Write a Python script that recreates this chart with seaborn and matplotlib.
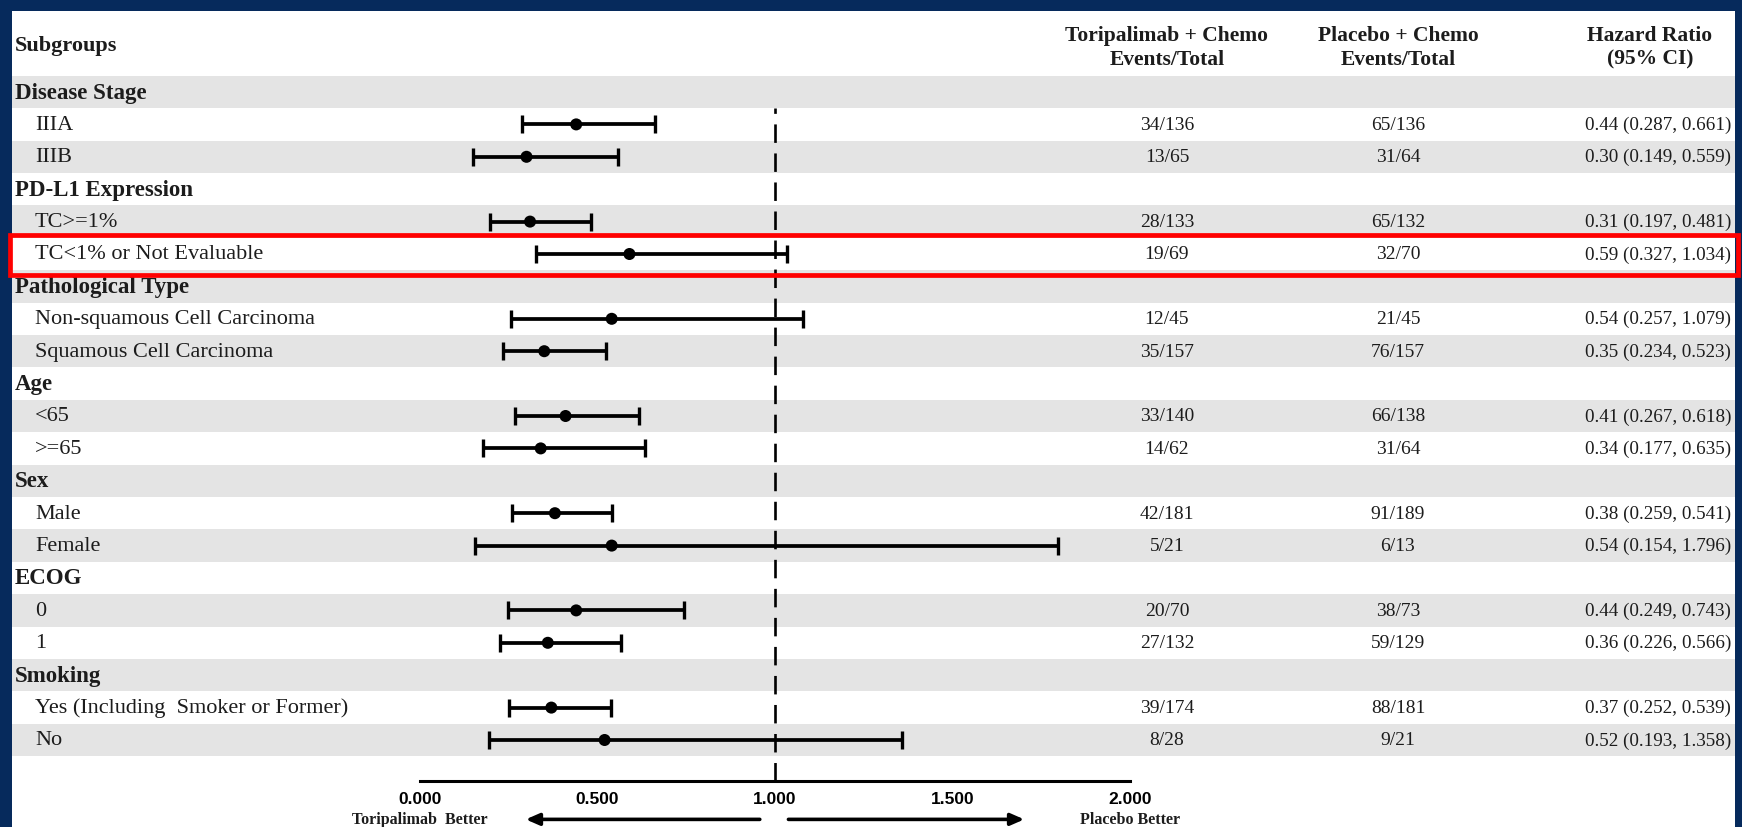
import numpy as np
import matplotlib
matplotlib.use('Agg')
import matplotlib.pyplot as plt
import matplotlib.transforms as mtransforms
from matplotlib.patches import Rectangle
import seaborn as sns

#%% data
groups = ['Disease Stage', 'PD-L1 Expression', 'Pathological Type', 'Age', 'Sex', 'ECOG', 'Smoking']
subgroups = [['IIIA', 'IIIB'],
             ['TC>=1%', 'TC<1% or Not Evaluable'],
             ['Non-squamous Cell Carcinoma', 'Squamous Cell Carcinoma'],
             ['<65', '>=65'],
             ['Male', 'Female'],
             ['0', '1'],
             ['Yes (Including  Smoker or Former)', 'No']]
tori_events = [34, 13, 28, 19, 12, 35, 33, 14, 42, 5, 20, 27, 39, 8]
tori_total = [136, 65, 133, 69, 45, 157, 140, 62, 181, 21, 70, 132, 174, 28]
pbo_events = [65, 31, 65, 32, 21, 76, 66, 31, 91, 6, 38, 59, 88, 9]
pbo_total = [136, 64, 132, 70, 45, 157, 138, 64, 189, 13, 73, 129, 181, 21]
hr = [0.44, 0.30, 0.31, 0.59, 0.54, 0.35, 0.41, 0.34, 0.38, 0.54, 0.44, 0.36, 0.37, 0.52]
ci_low = [0.287, 0.149, 0.197, 0.327, 0.257, 0.234, 0.267, 0.177, 0.259, 0.154, 0.249, 0.226, 0.252, 0.193]
ci_high = [0.661, 0.559, 0.481, 1.034, 1.079, 0.523, 0.618, 0.635, 0.541, 1.796, 0.743, 0.566, 0.539, 1.358]
highlight = 'TC<1% or Not Evaluable'
xticks = [0.0, 0.5, 1.0, 1.5, 2.0]

#%% layout of the rows
rowLabels = list()
rowIsHeader = list()
for g, subs in zip(groups, subgroups):
    rowLabels.append(g)
    rowIsHeader.append(True)
    for s in subs:
        rowLabels.append(s)
        rowIsHeader.append(False)
rowPos = np.arange(len(rowLabels))
dataRows = rowPos[~np.array(rowIsHeader)]

navy = '#062a5c'
band = '#e4e4e4'
txt = '#1c1c1c'

sns.set_style('white')
plt.rcParams['font.family'] = ['Liberation Serif', 'DejaVu Serif']

W, H = 1742, 828
fig = plt.figure(figsize=(W/100, H/100), dpi=100, facecolor=navy)
# white panel, navy frame on top / left / right
left_px, right_px, top_px = 12, 1735, 12
ax = fig.add_axes([left_px/W, 0, (right_px-left_px)/W, (H-top_px)/H])
ax.set_facecolor('white')

# x: hazard ratio 0 -> px 420, 1 unit = 355 px ; y: rows of 32.4 px, row 0 at px 93
pxUnit, x0px = 355.0, 420.0
ax.set_xlim((left_px-x0px)/pxUnit, (right_px-x0px)/pxUnit)
rowH, r0px = 32.4, 93.0
ax.set_ylim((H-r0px)/rowH, (top_px-r0px)/rowH)

for r in rowPos[::2]:
    ax.axhspan(r-0.5, r+0.5, color=band, lw=0, zorder=0)

# reference line at HR = 1
axisRow = 21.27
y0, y1 = ax.get_ylim()
ax.axvline(1.0, ymin=(y0-axisRow)/(y0-y1), ymax=(y0-0.5)/(y0-y1),
           color='black', lw=1.9, dashes=(7, 4), zorder=1)

ax.errorbar(hr, dataRows, xerr=[np.array(hr)-np.array(ci_low), np.array(ci_high)-np.array(hr)],
            fmt='none', ecolor='black', elinewidth=2.7, capsize=6.5, capthick=2.4, zorder=3)
sns.scatterplot(x=hr, y=dataRows, ax=ax, color='black', s=75, edgecolor='none', zorder=4)

# table text
tr = mtransforms.blended_transform_factory(ax.transAxes, ax.transData)
col1, col2, col3, colHR = 0.6703, 0.8044, 0.9977, 0.9507
ax.text(0.0017, -1.45, 'Subgroups', transform=tr, ha='left', va='center',
        fontsize=16, fontweight='bold', color=txt)
ax.text(col1, -1.4, 'Toripalimab + Chemo\nEvents/Total', transform=tr, ha='center', va='center',
        fontsize=15.5, fontweight='bold', color=txt, linespacing=1.25)
ax.text(col2, -1.4, 'Placebo + Chemo\nEvents/Total', transform=tr, ha='center', va='center',
        fontsize=15.5, fontweight='bold', color=txt, linespacing=1.25)
ax.text(colHR, -1.4, 'Hazard Ratio\n(95% CI)', transform=tr, ha='center', va='center',
        fontsize=15.5, fontweight='bold', color=txt, linespacing=1.25)

k = 0
for r, lab, isH in zip(rowPos, rowLabels, rowIsHeader):
    if isH:
        ax.text(0.0017, r, lab, transform=tr, ha='left', va='center',
                fontsize=16.5, fontweight='bold', color=txt)
        continue
    ax.text(0.0133, r, lab, transform=tr, ha='left', va='center', fontsize=16, color=txt)
    ax.text(col1, r, f'{tori_events[k]}/{tori_total[k]}', transform=tr, ha='center', va='center',
            fontsize=14, color=txt)
    ax.text(col2, r, f'{pbo_events[k]}/{pbo_total[k]}', transform=tr, ha='center', va='center',
            fontsize=14, color=txt)
    ax.text(col3, r, f'{hr[k]:.2f} ({ci_low[k]:.3f}, {ci_high[k]:.3f})', transform=tr,
            ha='right', va='center', fontsize=13.8, color=txt)
    if lab == highlight:
        ax.add_patch(Rectangle((-0.001, r-0.59), 1.0025, 1.24, transform=tr, fill=False,
                               edgecolor='#ff0000', lw=3.4, clip_on=False, zorder=6))
    k += 1

# x axis
for s in ['top', 'left', 'right']:
    ax.spines[s].set_visible(False)
ax.spines['bottom'].set_position(('data', axisRow))
ax.spines['bottom'].set_bounds(xticks[0], xticks[-1])
ax.spines['bottom'].set_linewidth(2.2)
ax.spines['bottom'].set_color('black')
ax.set_yticks([])
ax.set_xticks(xticks)
ax.set_xticklabels([f'{t:.3f}' for t in xticks])
ax.tick_params(axis='x', direction='out', length=4, width=2, pad=3, labelsize=12.5, colors='black')
for t in ax.get_xticklabels():
    t.set_fontweight('bold')
    t.set_family('Liberation Sans')

arrowRow = 22.45
ax.annotate('', xy=(0.29, arrowRow), xytext=(0.965, arrowRow),
            arrowprops=dict(arrowstyle='-|>,head_length=0.8,head_width=0.35', lw=2.6, color='black'))
ax.annotate('', xy=(1.71, arrowRow), xytext=(1.03, arrowRow),
            arrowprops=dict(arrowstyle='-|>,head_length=0.8,head_width=0.35', lw=2.6, color='black'))
ax.text(0.0, arrowRow, 'Toripalimab  Better', ha='center', va='center', fontsize=11.5,
        fontweight='bold', color=txt)
ax.text(2.0, arrowRow, 'Placebo Better', ha='center', va='center', fontsize=11.5,
        fontweight='bold', color=txt)

fig.savefig('out.png', dpi=100, facecolor=navy)
